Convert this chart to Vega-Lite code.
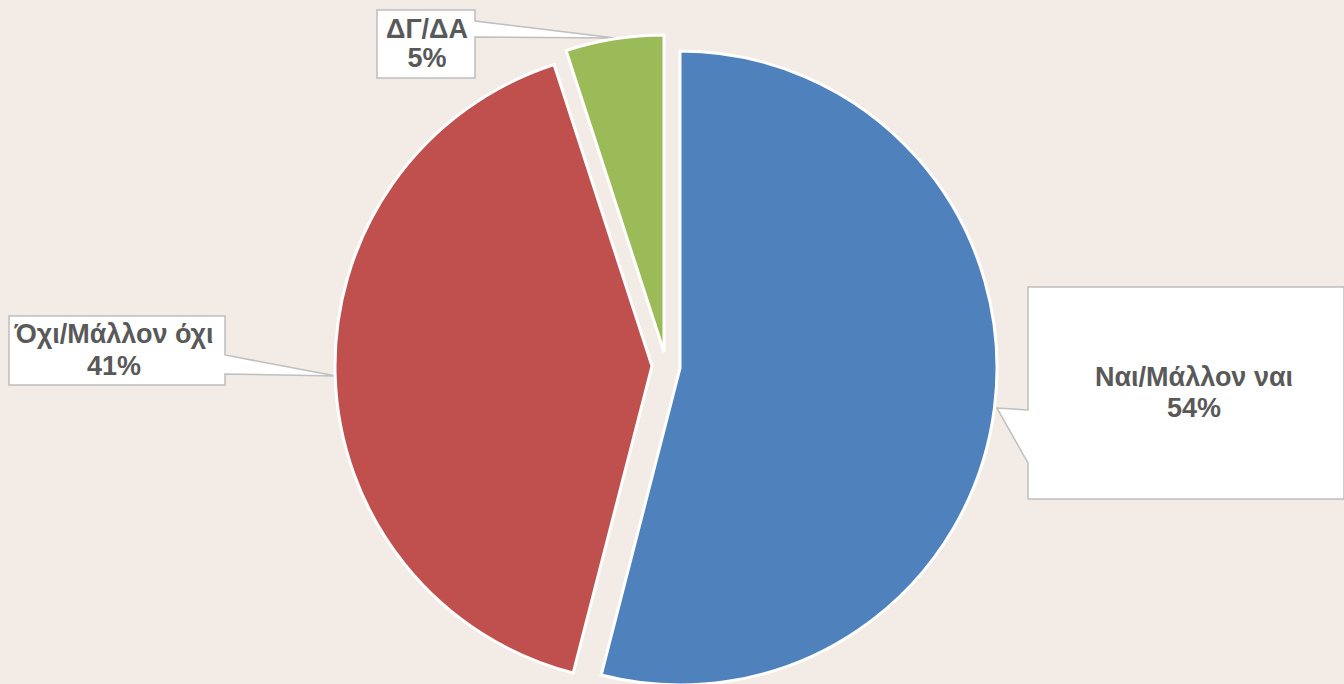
{
  "$schema": "https://vega.github.io/schema/vega-lite/v6.json",
  "width": 1332,
  "height": 636,
  "autosize": "none",
  "padding": {"left": 0, "top": 48, "right": 12, "bottom": 0},
  "background": "#f2ebe6",
  "view": {"stroke": null},
  "data": {
    "values": [
      {"category": "Ναι/Μάλλον ναι", "value": 54},
      {"category": "Όχι/Μάλλον όχι", "value": 41},
      {"category": "ΔΓ/ΔΑ", "value": 5}
    ]
  },
  "transform": [
    {"stack": "value", "groupby": [], "as": ["v0", "v1"], "sort": [{"field": "value", "order": "descending"}]},
    {"calculate": "datum.category + '\\n' + datum.value + '%'", "as": "label"}
  ],
  "encoding": {
    "color": {
      "field": "category",
      "type": "nominal",
      "scale": {"domain": ["Ναι/Μάλλον ναι", "Όχι/Μάλλον όχι", "ΔΓ/ΔΑ"], "range": ["#4f81bd", "#c0504d", "#9bbb59"]},
      "legend": null
    }
  },
  "layer": [
    {
      "mark": {"type": "point", "filled": true, "fill": "#ffffff", "stroke": "#bfbfbf", "strokeWidth": 1.5, "opacity": 1, "size": 4},
      "encoding": {
        "color": {"value": "#ffffff"},
        "shape": {
          "field": "category",
          "type": "nominal",
          "scale": {
            "domain": ["Ναι/Μάλλον ναι", "Όχι/Μάλλον όχι", "ΔΓ/ΔΑ"],
            "range": [
              "M362,-79H678V133H362V97L331,42L362,44Z",
              "M-657,-50H-441V-11L-330,10L-441,8V19H-657Z",
              "M-289,-356H-191V-345L-51,-328L-191,-329V-288H-289Z"
            ]
          },
          "legend": null
        }
      }
    },
    {
      "transform": [{"filter": "datum.category == 'Ναι/Μάλλον ναι'"}],
      "mark": {"type": "arc", "outerRadius": 317, "stroke": "#ffffff", "strokeWidth": 3, "xOffset": 14, "yOffset": 2},
      "encoding": {
        "theta": {"field": "v0", "type": "quantitative", "stack": null, "scale": {"domain": [0, 100], "range": [0, 6.283185307]}},
        "theta2": {"field": "v1"}
      }
    },
    {
      "transform": [{"filter": "datum.category == 'Όχι/Μάλλον όχι'"}],
      "mark": {"type": "arc", "outerRadius": 317, "stroke": "#ffffff", "strokeWidth": 3, "xOffset": -14, "yOffset": 0},
      "encoding": {
        "theta": {"field": "v0", "type": "quantitative", "stack": null, "scale": {"domain": [0, 100], "range": [0, 6.283185307]}},
        "theta2": {"field": "v1"}
      }
    },
    {
      "transform": [{"filter": "datum.category == 'ΔΓ/ΔΑ'"}],
      "mark": {"type": "arc", "outerRadius": 317, "stroke": "#ffffff", "strokeWidth": 3, "xOffset": -2, "yOffset": -14},
      "encoding": {
        "theta": {"field": "v0", "type": "quantitative", "stack": null, "scale": {"domain": [0, 100], "range": [0, 6.283185307]}},
        "theta2": {"field": "v1"}
      }
    },
    {
      "transform": [{"filter": "datum.category == 'Ναι/Μάλλον ναι'"}],
      "mark": {"type": "text", "lineBreak": "\n", "font": "Liberation Sans", "fontWeight": "bold", "fontSize": 27, "lineHeight": 31, "align": "center", "baseline": "middle", "dx": 528, "dy": 12},
      "encoding": {"text": {"field": "label"}, "color": {"value": "#595959"}}
    },
    {
      "transform": [{"filter": "datum.category == 'Όχι/Μάλλον όχι'"}],
      "mark": {"type": "text", "lineBreak": "\n", "font": "Liberation Sans", "fontWeight": "bold", "fontSize": 27, "lineHeight": 32, "align": "center", "baseline": "middle", "dx": -552, "dy": -31},
      "encoding": {"text": {"field": "label"}, "color": {"value": "#595959"}}
    },
    {
      "transform": [{"filter": "datum.category == 'ΔΓ/ΔΑ'"}],
      "mark": {"type": "text", "lineBreak": "\n", "font": "Liberation Sans", "fontWeight": "bold", "fontSize": 27, "lineHeight": 29, "align": "center", "baseline": "middle", "dx": -239, "dy": -336},
      "encoding": {"text": {"field": "label"}, "color": {"value": "#595959"}}
    }
  ]
}
